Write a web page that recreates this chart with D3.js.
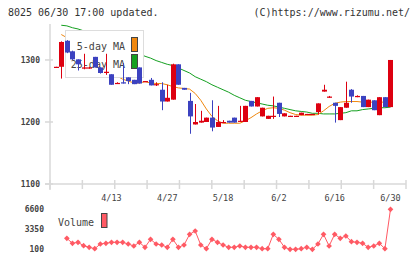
<!DOCTYPE html>
<html><head><meta charset="utf-8">
<script src="https://cdn.jsdelivr.net/npm/d3@7"></script>
<style>body{margin:0;background:#fff;}svg{display:block;}</style>
</head><body><svg id="c" width="420" height="259"></svg>
<script>
const openP  = [1288,1289,1331,1314,1301,1286,1287,1305,1288,1279,1277,1262,1264,1272,1268,1288,1265,1268,1260,1252,1233,1236,1293,1255,1234,1196,1199,1200,1207,1192,1199,1202,1207,1201,1200,1234,1225,1209,1205,1209,1231,1209,1209,1209,1211,1212,1212,1216,1249,1239,1231,1203,1223,1252,1240,1242,1224,1235,1211,1240,1224];
const highP  = [1289,1330,1332,1315,1301,1310,1289,1305,1288,1310,1277,1264,1295,1272,1268,1288,1266,1271,1264,1264,1260,1294,1293,1255,1247,1229,1218,1207,1235,1226,1203,1202,1207,1226,1226,1234,1240,1223,1210,1241,1231,1214,1210,1210,1215,1213,1213,1230,1260,1242,1231,1224,1265,1253,1243,1242,1236,1235,1240,1240,1300];
const lowP   = [1288,1270,1311,1300,1283,1285,1286,1288,1278,1276,1260,1262,1262,1261,1261,1262,1265,1259,1258,1219,1233,1236,1260,1252,1181,1196,1199,1200,1185,1192,1199,1199,1199,1200,1200,1225,1225,1209,1205,1205,1208,1209,1209,1209,1211,1212,1212,1212,1249,1239,1199,1203,1223,1231,1240,1224,1224,1219,1211,1224,1224];
const closeP = [1289,1329,1312,1301,1293,1288,1288,1288,1279,1281,1260,1263,1262,1266,1261,1262,1266,1259,1261,1233,1239,1293,1260,1252,1209,1200,1202,1207,1191,1200,1200,1199,1199,1202,1226,1225,1240,1223,1210,1210,1213,1214,1210,1210,1215,1213,1213,1230,1252,1241,1226,1224,1231,1241,1242,1224,1236,1219,1240,1224,1300];
const ma5  = [null,1341,1336,1320,1306,1305,1296,1292,1287,1285,1279,1274,1269,1266,1263,1263,1265,1263,1262,1262,1260,1257,1255,1254,1253,1246,1235,1221,1209,1202,1198,1198,1198,1198,1202,1207,1213,1218,1222,1223,1222,1219,1215,1212,1211,1211,1211,1212,1218,1225,1230,1232,1233,1233,1233,1232,1232,1232,1232,1232,1234];
const ma25 = [null,1356,1355,1352,1350,1347,1344,1341,1337,1333,1329,1325,1321,1317,1313,1310,1306,1303,1299,1296,1293,1291,1287,1283,1279,1273,1269,1265,1260,1256,1252,1248,1243,1239,1235,1233,1231,1229,1227,1226,1224,1222,1220,1218,1217,1216,1214,1214,1213,1213,1213,1214,1215,1218,1218,1220,1221,1222,1223,1223,1224];
const volume = [null,null,1839,1026,1189,636,376,149,912,1026,1189,1189,1189,912,588,1189,376,1676,912,750,376,1676,376,750,2489,3025,750,149,1676,1189,750,376,376,588,376,376,376,149,149,2489,1676,376,50,50,149,376,50,912,2489,588,2489,1839,2212,1286,1189,1026,376,588,1026,149,6550];
const xLabelIdx = [10,20,30,40,50,60];
const xLabelText = ["4/13","4/27","5/18","6/2","6/16","6/30"];
const yTicks = [1100,1200,1300];
const vTicks = [100,3350,6600];

const svg = d3.select("#c");
const mono = "'DejaVu Sans Mono', monospace";
const RED="#dd0010", BLUE="#3c42c0", ORANGE="#f0880f", GREEN="#14a020", VOL="#ff5a64";

const x = d3.scaleLinear().domain([-1.02, 62.78]).range([50, 406]);
const y = d3.scaleLinear().domain([1100, 1358]).range([184, 24]);
const yv = d3.scaleLinear().domain([100, 6600]).range([249, 209]);

// header
svg.append("text").attr("x",8).attr("y",16).attr("font-family",mono).attr("font-size",10).attr("fill","#333").text("8025 06/30 17:00 updated.");
svg.append("text").attr("x",410).attr("y",16).attr("text-anchor","end").attr("font-family",mono).attr("font-size",10).attr("fill","#333").text("(C)https://www.rizumu.net/");

// axes
const ax = svg.append("g").attr("stroke","#d8d8d8").attr("stroke-width",1.5);
ax.append("line").attr("x1",50).attr("x2",50).attr("y1",24).attr("y2",190);
ax.append("line").attr("x1",45).attr("x2",406).attr("y1",y(1100)).attr("y2",y(1100));
yTicks.forEach(t=>{ax.append("line").attr("x1",45).attr("x2",53).attr("y1",y(t)).attr("y2",y(t));});
const d0=x.domain()[0], d1=x.domain()[1];
d3.range(12).forEach(k=>{const v=d0+k*(d1-d0)/11; ax.append("line").attr("x1",x(v)).attr("x2",x(v)).attr("y1",180).attr("y2",189);});

svg.append("g").selectAll("text").data(yTicks).join("text")
  .attr("x",40).attr("y",d=>y(d)+3).attr("text-anchor","end").attr("font-family",mono).attr("font-weight","bold").attr("font-size",8).attr("fill","#444").text(d=>d);
svg.append("g").selectAll("text").data(xLabelIdx).join("text")
  .attr("x",d=>x(d)).attr("y",201).attr("text-anchor","middle").attr("font-family",mono).attr("font-size",8.5).attr("fill","#444").text((d,i)=>xLabelText[i]);

// MA lines
const line = arr => d3.line().defined(d=>d!=null).x((d,i)=>x(i)).y(d=>y(d))(arr);
svg.append("path").attr("d",line(ma25)).attr("fill","none").attr("stroke",GREEN).attr("stroke-width",1);
svg.append("path").attr("d",line(ma5)).attr("fill","none").attr("stroke",ORANGE).attr("stroke-width",1);

// legend
const lg = svg.append("g");
lg.append("rect").attr("x",65.5).attr("y",30.5).attr("width",78).attr("height",47).attr("fill","#fff").attr("stroke","#ddd").attr("stroke-width",1);
lg.append("text").attr("x",125).attr("y",50).attr("text-anchor","end").attr("font-family",mono).attr("font-size",10).attr("fill","#444").text("5-day MA");
lg.append("text").attr("x",125).attr("y",68).attr("text-anchor","end").attr("font-family",mono).attr("font-size",10).attr("fill","#444").text("25-day MA");
lg.append("rect").attr("x",131.5).attr("y",37.5).attr("width",6).attr("height",14).attr("fill",ORANGE).attr("stroke","#444");
lg.append("rect").attr("x",131.5).attr("y",54.5).attr("width",6).attr("height",14).attr("fill",GREEN).attr("stroke","#444");

// candles
const idx = d3.range(openP.length);
const cg = svg.append("g");
cg.selectAll("line").data(idx).join("line")
  .attr("x1",i=>Math.round(x(i))+0.5).attr("x2",i=>Math.round(x(i))+0.5)
  .attr("y1",i=>y(highP[i])).attr("y2",i=>y(lowP[i]))
  .attr("stroke",i=>closeP[i]>=openP[i]?RED:BLUE).attr("stroke-width",1);
cg.selectAll("rect").data(idx).join("rect")
  .attr("x",i=>Math.round(x(i))-2).attr("width",5)
  .attr("y",i=>y(Math.max(openP[i],closeP[i])))
  .attr("height",i=>Math.max(1.2,Math.abs(y(openP[i])-y(closeP[i]))))
  .attr("fill",i=>closeP[i]>=openP[i]?RED:BLUE);

// volume
svg.append("g").selectAll("text").data(vTicks).join("text")
  .attr("x",44).attr("y",d=>yv(d)+3).attr("text-anchor","end").attr("font-family",mono).attr("font-weight","bold").attr("font-size",8).attr("fill","#444").text(d=>d);
const vline = d3.line().defined(d=>d!=null).x((d,i)=>x(i)).y(d=>yv(d));
svg.append("path").attr("d",vline(volume)).attr("fill","none").attr("stroke",VOL).attr("stroke-width",1);
const diamond = {draw(ctx,size){const r=Math.sqrt(size/2);ctx.moveTo(0,-r);ctx.lineTo(r,0);ctx.lineTo(0,r);ctx.lineTo(-r,0);ctx.closePath();}};
svg.append("g").selectAll("path").data(idx.filter(i=>volume[i]!=null)).join("path")
  .attr("d",d3.symbol(diamond,16)).attr("transform",i=>`translate(${x(i)},${yv(volume[i])})`).attr("fill",VOL);
svg.append("text").attr("x",58).attr("y",226).attr("font-family",mono).attr("font-size",10).attr("fill","#444").text("Volume");
svg.append("rect").attr("x",101.5).attr("y",213.5).attr("width",5.5).attr("height",14).attr("fill",VOL).attr("stroke","#444");
</script></body></html>
